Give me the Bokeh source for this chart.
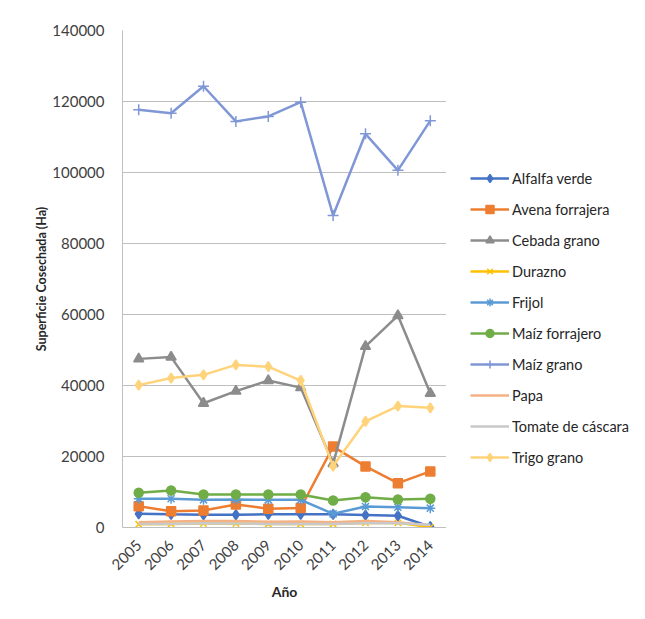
import math
from bokeh.plotting import figure
from bokeh.layouts import row
from bokeh.models import Legend, LegendItem, FixedTicker, Range1d
from bokeh.embed import file_html
from bokeh.resources import INLINE

years = [2005, 2006, 2007, 2008, 2009, 2010, 2011, 2012, 2013, 2014]

alfalfa_verde = [3850, 3700, 3600, 3600, 3700, 3700, 3700, 3500, 3300, 200]
avena_forrajera = [6000, 4600, 4800, 6500, 5300, 5500, 22800, 17200, 12500, 15800]
cebada_grano = [47500, 48000, 35000, 38400, 41400, 39400, 18000, 51000, 59700, 37800]
durazno = [900, 1000, 1100, 1100, 1000, 1000, 1000, 1300, 1300, 100]
frijol = [8100, 8100, 7800, 7900, 7800, 7800, 3850, 5900, 5700, 5450]
maiz_forrajero = [9800, 10400, 9300, 9300, 9300, 9300, 7600, 8500, 7900, 8100]
maiz_grano = [117700, 116700, 124300, 114400, 115800, 119800, 87900, 110900, 100600, 114600]
papa = [1500, 1700, 1800, 1800, 1600, 1700, 1500, 1800, 1500, 600]
tomate_cascara = [1000, 1000, 1200, 1100, 1000, 1000, 1000, 1200, 1200, 800]
trigo_grano = [40100, 42100, 43000, 45800, 45300, 41400, 17300, 29900, 34200, 33700]

y_ticks = [0, 20000, 40000, 60000, 80000, 100000, 120000, 140000]

series = [
    ("Alfalfa verde", alfalfa_verde, "#4472C4", "diamond", 10),
    ("Avena forrajera", avena_forrajera, "#ED7D31", "square", 9),
    ("Cebada grano", cebada_grano, "#8C8C8C", "triangle", 10),
    ("Durazno", durazno, "#FFC000", "x", 9),
    ("Frijol", frijol, "#5B9BD5", "asterisk", 10),
    ("Maíz forrajero", maiz_forrajero, "#70AD47", "circle", 9),
    ("Maíz grano", maiz_grano, "#8097D6", "cross", 11),
    ("Papa", papa, "#F4B183", None, 0),
    ("Tomate de cáscara", tomate_cascara, "#C9C9C9", None, 0),
    ("Trigo grano", trigo_grano, "#FFD37A", "diamond", 10),
]

FONT = "Lato"
H = 611

p = figure(width=446, height=H, output_backend="svg", toolbar_location=None,
           x_range=Range1d(2004.5, 2014.5), y_range=Range1d(0, 140000),
           min_border_left=122, min_border_right=0, min_border_top=30,
           min_border_bottom=H - 30 - 497)
p.outline_line_color = None
p.background_fill_color = "white"
p.border_fill_color = "white"

p.xgrid.grid_line_color = None
p.ygrid.grid_line_color = "#BFBFBF"
p.ygrid.grid_line_width = 1

p.yaxis.ticker = FixedTicker(ticks=y_ticks)
p.yaxis.formatter.use_scientific = False
p.xaxis.ticker = FixedTicker(ticks=years)

for ax in (p.xaxis, p.yaxis):
    ax.axis_line_color = "#BFBFBF"
    ax.major_tick_line_color = None
    ax.minor_tick_line_color = None
    ax.major_label_text_font = FONT
    ax.major_label_text_font_size = "15px"
    ax.major_label_text_color = "#404040"
    ax.axis_label_text_font = FONT
    ax.axis_label_text_font_style = "bold"
    ax.axis_label_text_color = "#262626"

p.yaxis.major_label_standoff = 12
p.yaxis.axis_label = "Superficie Cosechada (Ha)"
p.yaxis.axis_label_text_font_size = "12.5px"
p.yaxis.axis_label_standoff = 0

p.xaxis.major_label_orientation = math.pi / 4
p.xaxis.major_label_standoff = 9
p.xaxis.axis_label = "Año"
p.xaxis.axis_label_text_font_size = "14px"
p.xaxis.axis_label_standoff = 5

# legend-only figure (its frame is aligned with the main figure's frame)
lg = figure(width=183, height=H, output_backend="svg", toolbar_location=None,
            x_axis_location=None, y_axis_location=None,
            x_range=Range1d(0, 1), y_range=Range1d(0, 1),
            min_border_left=0, min_border_right=0, min_border_top=30,
            min_border_bottom=H - 30 - 497)
lg.outline_line_color = None
lg.xgrid.grid_line_color = None
lg.ygrid.grid_line_color = None
lg.border_fill_color = "white"
lg.background_fill_color = "white"

items = []
for name, vals, color, marker, size in series:
    p.line(years, vals, line_color=color, line_width=2.5)
    rs = [lg.line(years, vals, line_color=color, line_width=2.5)]
    if marker is not None:
        p.scatter(years, vals, marker=marker, size=size,
                  fill_color=color, line_color=color, line_width=1.5)
        rs.append(lg.scatter(years, vals, marker=marker, size=size - 1,
                             fill_color=color, line_color=color, line_width=1.5))
    items.append(LegendItem(label=name, renderers=rs))

legend = Legend(items=items, location=(24, 60))
legend.label_text_font = FONT
legend.label_text_font_size = "14.5px"
legend.label_text_color = "#262626"
legend.glyph_width = 39
legend.glyph_height = 20
legend.label_height = 20
legend.label_standoff = 3
legend.spacing = 11
legend.padding = 0
legend.margin = 0
legend.border_line_color = None
legend.background_fill_alpha = 0
lg.add_layout(legend, "center")

layout = row(p, lg, spacing=0)
open("out.html", "w").write(file_html(layout, INLINE))
